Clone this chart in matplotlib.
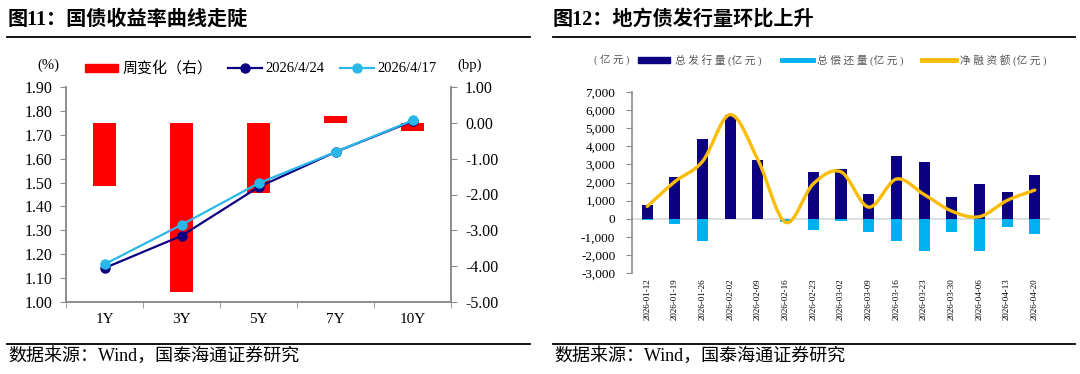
import numpy as np
import matplotlib
matplotlib.use("Agg")
import matplotlib.pyplot as plt
from matplotlib.path import Path
from matplotlib.patches import PathPatch, Rectangle
from matplotlib.lines import Line2D

plt.rcParams['font.family'] = ['Liberation Serif', 'Noto Sans CJK SC', 'DejaVu Sans']

# ------- 图11 数据 -------
tenors = ['1Y', '3Y', '5Y', '7Y', '10Y']
yld_0424 = [1.142, 1.277, 1.481, 1.628, 1.757]
yld_0417 = [1.158, 1.323, 1.497, 1.628, 1.760]
chg_bp = [-1.76, -4.72, -1.96, 0.20, -0.22]

# ------- 图12 数据 -------
weeks = ['2026-01-12', '2026-01-19', '2026-01-26', '2026-02-02', '2026-02-09',
         '2026-02-16', '2026-02-23', '2026-03-02', '2026-03-09', '2026-03-16',
         '2026-03-23', '2026-03-30', '2026-04-06', '2026-04-13', '2026-04-20']
issue = [760, 2330, 4420, 5750, 3250, 0, 2580, 2740, 1360, 3440, 3110, 1180, 1910, 1470, 2430]
repay = [-50, -280, -1250, 0, 0, -200, -650, -150, -720, -1250, -1770, -760, -1800, -460, -850]
net = [680, 2050, 3170, 5750, 3250, -200, 1930, 2590, 640, 2190, 1340, 420, 110, 1010, 1580]

RED = '#ff0000'
NAVY = '#0c0080'
SKY = '#2ab8ea'
CYAN = '#00b0f0'
GOLD = '#fbbc05'
GRAY = '#8c8c8c'

W, H = 1080, 374
fig = plt.figure(figsize=(W / 100, H / 100), dpi=100)

def fx(px):
    return px / W

def fy(py):
    return 1 - py / H

# 标题与分隔线
fig.text(fx(8), fy(20), '图11：国债收益率曲线走陡', fontsize=14.5, fontweight='bold',
         va='center', ha='left')
fig.text(fx(553), fy(20), '图12：地方债发行量环比上升', fontsize=14.5, fontweight='bold',
         va='center', ha='left')
for x0, x1 in ((7, 530), (553, 1075)):
    fig.add_artist(Line2D([fx(x0), fx(x1)], [fy(37)] * 2, color='black', lw=1.3))
    fig.add_artist(Line2D([fx(x0), fx(x1)], [fy(344)] * 2, color='black', lw=1.3))
    fig.text(fx(x0 + 1), fy(356), '数据来源：Wind，国泰海通证券研究', fontsize=13,
             va='center', ha='left')

# ------- 左图 -------
ax = fig.add_axes([fx(66), fy(302), fx(451 - 66), (302 - 87) / H])
ax2 = ax.twinx()
x = np.arange(len(tenors))
ax2.bar(x, chg_bp, width=0.31, color=RED, zorder=1)
ax2.set_ylim(-5, 1)
ax2.set_yticks(np.arange(-5, 1.01, 1))
ax2.set_yticklabels([f'{v:.2f}' for v in np.arange(-5, 1.01, 1)])
ax.set_zorder(ax2.get_zorder() + 1)
ax.patch.set_visible(False)
ax.plot(x, yld_0424, color=NAVY, lw=1.6, marker='o', ms=6.5)
ax.plot(x, yld_0417, color=SKY, lw=1.6, marker='o', ms=6.5)
ax.set_ylim(1.0, 1.9)
ax.set_yticks(np.arange(1.0, 1.91, 0.1))
ax.set_yticklabels([f'{v:.2f}' for v in np.arange(1.0, 1.91, 0.1)])
ax.set_xlim(-0.5, len(tenors) - 0.5)
ax.set_xticks(x)
ax.set_xticklabels(tenors)
ax.set_xticks(np.arange(-0.5, len(tenors), 1), minor=True)
ax.tick_params(axis='x', which='major', length=0, pad=8, labelsize=11)
ax.tick_params(axis='x', which='minor', length=4, color=GRAY, direction='out')
ax.tick_params(axis='y', length=4, color=GRAY, labelsize=11.5, pad=6)
ax2.tick_params(axis='y', length=4, color=GRAY, labelsize=11.5, pad=6)
for a in (ax, ax2):
    a.spines['top'].set_visible(False)
    for s in ('left', 'right', 'bottom'):
        a.spines[s].set_color(GRAY)
        a.spines[s].set_linewidth(1.2)
fig.text(fx(48), fy(65), '(%)', fontsize=10.5, ha='center', va='center')
fig.text(fx(470), fy(65), '(bp)', fontsize=10.5, ha='center', va='center')

# 左图图例（手动排布）
ly1 = fy(68)
fig.add_artist(Rectangle((fx(85), ly1 - 4 / H), fx(33), 8 / H, color=RED,
                         transform=fig.transFigure))
fig.text(fx(123), ly1, '周变化（右）', fontsize=10.8, ha='left', va='center')
fig.add_artist(Line2D([fx(228), fx(262)], [ly1, ly1], color=NAVY, lw=1.6))
fig.add_artist(Line2D([fx(245)], [ly1], color=NAVY, marker='o', ms=6.5))
fig.text(fx(265), ly1, '2026/4/24', fontsize=10.5, ha='left', va='center')
fig.add_artist(Line2D([fx(340), fx(374)], [ly1, ly1], color=SKY, lw=1.6))
fig.add_artist(Line2D([fx(357)], [ly1], color=SKY, marker='o', ms=6.5))
fig.text(fx(377), ly1, '2026/4/17', fontsize=10.5, ha='left', va='center')

# ------- 右图 -------
bx = fig.add_axes([fx(632), fy(273), fx(1050 - 632), (273 - 92) / H])
xi = np.arange(len(weeks))
bx.axhline(0, color='#d9d9d9', lw=1.2, zorder=0)
bx.bar(xi, issue, width=0.4, color=NAVY, zorder=2)
bx.bar(xi, repay, width=0.4, color=CYAN, zorder=2)

# 平滑曲线（类似 Excel 平滑线）
pts = np.column_stack([xi, net]).astype(float)
verts = [tuple(pts[0])]
codes = [Path.MOVETO]
n = len(pts)
for i in range(n - 1):
    p0 = pts[max(i - 1, 0)]
    p1 = pts[i]
    p2 = pts[i + 1]
    p3 = pts[min(i + 2, n - 1)]
    c1 = p1 + (p2 - p0) / 6
    c2 = p2 - (p3 - p1) / 6
    verts += [tuple(c1), tuple(c2), tuple(p2)]
    codes += [Path.CURVE4] * 3
bx.add_patch(PathPatch(Path(verts, codes), facecolor='none', edgecolor=GOLD, lw=2.4,
                       zorder=3, capstyle='round'))

bx.set_xlim(-0.55, len(weeks) - 0.45)
bx.set_ylim(-3000, 7000)
bx.set_yticks(np.arange(-3000, 7001, 1000))
bx.set_yticklabels([f'{v:,}' for v in range(-3000, 7001, 1000)])
bx.set_xticks(xi)
bx.set_xticklabels(weeks, rotation=90, fontsize=6.5)
bx.tick_params(axis='x', length=0, pad=4)
bx.tick_params(axis='y', length=4, color=GRAY, labelsize=9.5, pad=8)
for s in ('top', 'right', 'bottom'):
    bx.spines[s].set_visible(False)
bx.spines['left'].set_color(GRAY)
bx.spines['left'].set_linewidth(1.2)

# 右图图例（手动排布）
LEG = '#555555'
ly = fy(60)
fig.text(fx(594), ly, '( 亿 元 )', fontsize=7.5, color=LEG, ha='left', va='center')
fig.add_artist(Rectangle((fx(638), ly - 2.5 / H), fx(32), 5 / H, color=NAVY,
                         transform=fig.transFigure))
fig.text(fx(675), ly, '总 发 行 量 (亿 元 )', fontsize=7.7, color=LEG, ha='left', va='center')
fig.add_artist(Line2D([fx(782), fx(813)], [ly, ly], color=CYAN, lw=3.5))
fig.text(fx(817), ly, '总 偿 还 量 (亿 元 )', fontsize=7.7, color=LEG, ha='left', va='center')
fig.add_artist(Line2D([fx(922), fx(956)], [ly, ly], color=GOLD, lw=3.5))
fig.text(fx(960), ly, '净 融 资 额 (亿 元 )', fontsize=7.7, color=LEG, ha='left', va='center')

fig.savefig('out.png', dpi=100)
